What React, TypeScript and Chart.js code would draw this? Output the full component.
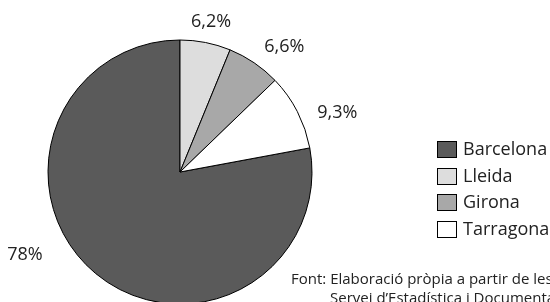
import React, { useEffect, useRef } from "react";
import { Chart, registerables } from "chart.js";

Chart.register(...registerables);

const categories = ["Barcelona", "Lleida", "Girona", "Tarragona"];
const values = [78, 6.2, 6.6, 9.3];
const valueLabels = ["78%", "6,2%", "6,6%", "9,3%"];
const colors = ["#5a5a5a", "#dddddd", "#a8a8a8", "#ffffff"];
const sourceLines = [
  "Font: Elaboració pròpia a partir de les dades del",
  "Servei d’Estadística i Documentació",
];

// label placement (polar, relative to the pie centre): angle clockwise from top, distance
const labelAngles = [241.8, 11.7, 39.8, 69.4];
const labelDist = [176, 153, 163, 168];

const FONT = "'Open Sans', 'DejaVu Sans', sans-serif";

const overlayPlugin = {
  id: "overlay",
  afterDraw(chart: any) {
    const ctx = chart.ctx as CanvasRenderingContext2D;
    const meta = chart.getDatasetMeta(0);
    ctx.save();
    // value labels
    ctx.font = `18px ${FONT}`;
    ctx.fillStyle = "#222";
    ctx.textAlign = "center";
    ctx.textBaseline = "middle";
    meta.data.forEach((arc: any, i: number) => {
      const a = (labelAngles[i] * Math.PI) / 180;
      const x = arc.x + labelDist[i] * Math.sin(a);
      const y = arc.y - labelDist[i] * Math.cos(a);
      ctx.fillText(valueLabels[i], x, y);
    });
    // legend
    const lx = 437;
    const ly = 141;
    const step = 26.7;
    ctx.textAlign = "left";
    ctx.font = `18px ${FONT}`;
    categories.forEach((c, i) => {
      const y = Math.round(ly + i * step);
      ctx.fillStyle = colors[i];
      ctx.fillRect(lx, y, 19, 16);
      ctx.strokeStyle = "#000";
      ctx.lineWidth = 1;
      ctx.strokeRect(lx + 0.5, y + 0.5, 19, 16);
      ctx.fillStyle = "#222";
      ctx.fillText(c, 463, y + 8.5);
    });
    // source
    ctx.font = `15px ${FONT}`;
    ctx.textBaseline = "alphabetic";
    ctx.fillStyle = "#222";
    ctx.fillText(sourceLines[0], 291, 284);
    ctx.fillText(sourceLines[1], 330, 303);
    ctx.restore();
  },
};

export default function App() {
  const ref = useRef<HTMLCanvasElement | null>(null);
  useEffect(() => {
    if (!ref.current) return;
    const chart = new Chart(ref.current, {
      type: "pie",
      data: {
        labels: categories,
        datasets: [
          {
            data: values,
            backgroundColor: colors,
            borderColor: "#000",
            borderWidth: 1,
            hoverOffset: 0,
          },
        ],
      },
      options: {
        responsive: false,
        animation: false,
        rotation: (1 - values[0] / values.reduce((s, v) => s + v, 0)) * 360,
        radius: 132,
        layout: { padding: { left: 48, right: 238, top: 40, bottom: 6 } },
        events: [],
        plugins: {
          legend: { display: false },
          tooltip: { enabled: false },
          title: { display: false },
        },
      },
      plugins: [overlayPlugin],
    });
    return () => chart.destroy();
  }, []);
  return (
    <div
      style={{
        position: "fixed",
        left: 0,
        top: 0,
        width: 550,
        height: 302,
        overflow: "hidden",
        background: "#fff",
      }}
    >
      <canvas ref={ref} width={550} height={310} style={{ display: "block" }} />
    </div>
  );
}
